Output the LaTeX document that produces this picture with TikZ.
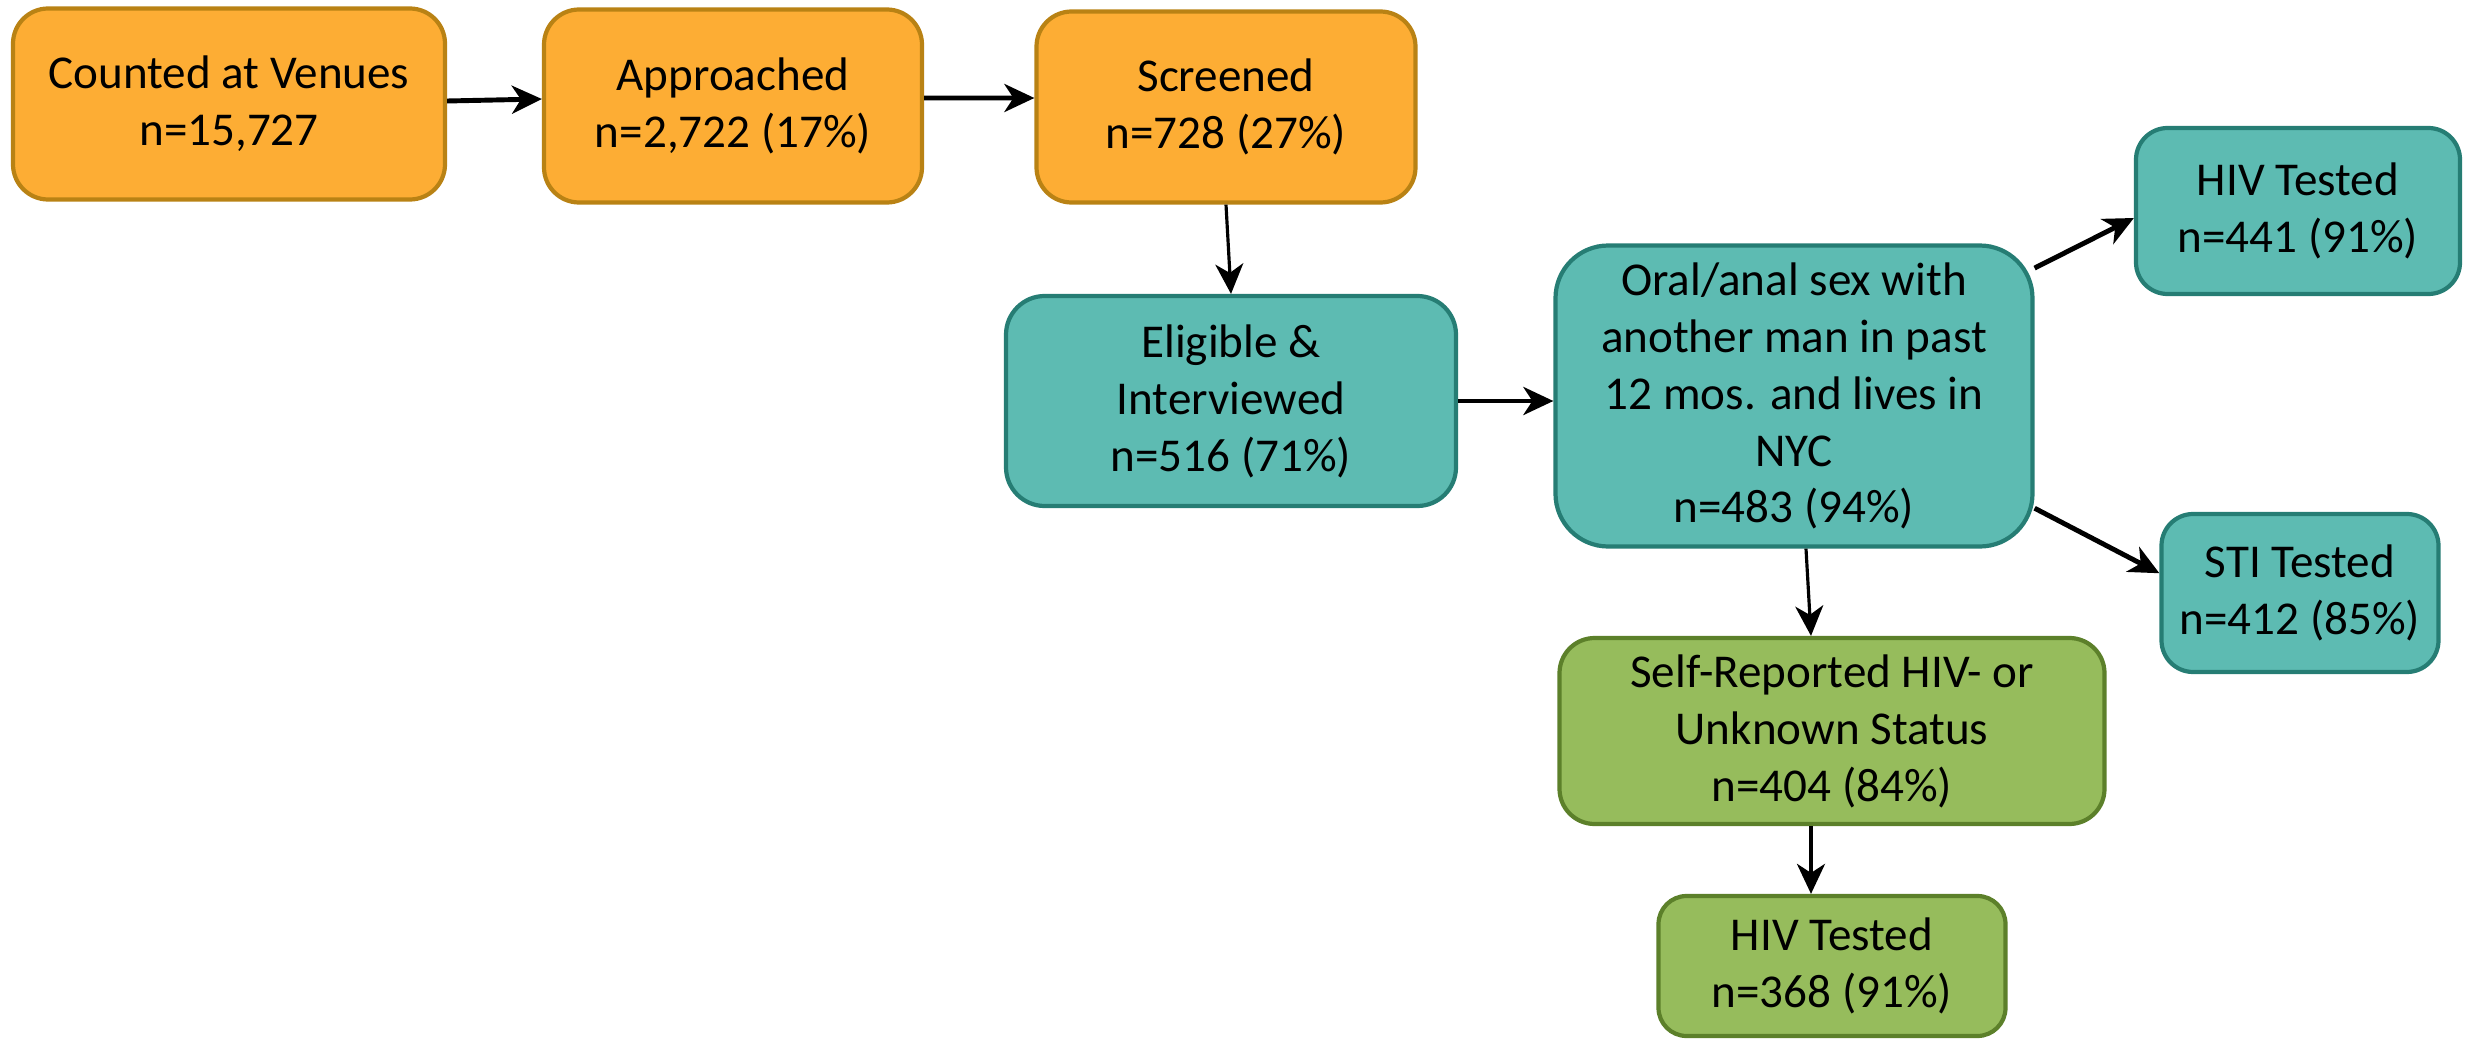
\documentclass[tikz,border=0pt]{standalone}
\usepackage{fontspec}
\setmainfont{Carlito}
\usepackage{xcolor}
\usepackage{tikz}
\usetikzlibrary{positioning, arrows.meta}
\definecolor{recruitcolor}{RGB}{253, 173, 52}
\definecolor{recruitline}{RGB}{185, 130, 20}
\definecolor{eligcolor}{RGB}{93, 187, 178}
\definecolor{eligline}{RGB}{38, 125, 116}
\definecolor{testcolor}{RGB}{150, 188, 92}
\definecolor{testline}{RGB}{92, 128, 42}

\begin{document}
\begin{tikzpicture}[
			stage/.style={
				rectangle,
				rounded corners=10pt,
				align=center,
				inner sep=0pt,
				line width=1.2pt,
				font=\fontsize{13.4}{16.2}\selectfont
			},
			recruit/.style={stage, fill=recruitcolor, draw=recruitline},
			elig/.style={stage, fill=eligcolor, draw=eligline},
			tested/.style={stage, fill=testcolor, draw=testline},
			link/.style={-{Stealth[length=3mm, width=2.8mm, inset=0.9mm]}, line width=0.9pt, black},
			boldlink/.style={link, line width=1.4pt}
			]
			
			\useasboundingbox (0,0) rectangle (24.81,-10.39);
			
			\node[recruit, minimum width=4.32cm, minimum height=1.91cm] (counted) at (2.29,-1.04)
			{Counted at Venues\\n=15,727};
			
			\node[recruit, minimum width=3.78cm, minimum height=1.93cm] (approached) at (7.33,-1.06)
			{Approached\\n=2,722 (17\%)};
			
			\node[recruit, minimum width=3.79cm, minimum height=1.91cm] (screened) at (12.26,-1.07)
			{Screened\\n=728 (27\%)};
			
			\node[elig, minimum width=4.50cm, minimum height=2.10cm, rounded corners=11pt] (eligible) at (12.31,-4.01)
			{Eligible \&\\Interviewed\\n=516 (71\%)};
			
			\node[elig, minimum width=4.77cm, minimum height=3.01cm, rounded corners=15pt] (msm) at (17.94,-3.96)
			{Oral/anal sex with\\another man in past\\12 mos. and lives in\\NYC\\n=483 (94\%)};
			
			\node[elig, minimum width=3.24cm, minimum height=1.66cm, rounded corners=9pt] (hivtest) at (22.98,-2.11)
			{HIV Tested\\n=441 (91\%)};
			
			\node[elig, minimum width=2.77cm, minimum height=1.58cm, rounded corners=9pt] (stitest) at (23.00,-5.93)
			{STI Tested\\n=412 (85\%)};
			
			\node[tested, minimum width=5.45cm, minimum height=1.86cm] (selfrep) at (18.32,-7.31)
			{Self-Reported HIV- or\\Unknown Status\\n=404 (84\%)};
			
			\node[tested, minimum width=3.47cm, minimum height=1.40cm, rounded corners=8pt] (hivneg) at (18.32,-9.66)
			{HIV Tested\\n=368 (91\%)};
			
			\draw[boldlink] ([yshift=0.03cm]counted.east) -- ([yshift=0.07cm]approached.west);
			\draw[boldlink] ([yshift=0.08cm]approached.east) -- ([yshift=0.09cm]screened.west);
			\draw[link] (screened.south) -- (eligible.north);
			\draw[boldlink] (eligible.east) -- (eligible.east -| msm.west);
			\draw[boldlink] (msm.28) -- ([yshift=-0.07cm]hivtest.west);
			\draw[boldlink] (msm.-25) -- (stitest.172);
			\draw[link] ([xshift=1.2mm]msm.south) -- ([xshift=-2.1mm]selfrep.north);
			\draw[link, line width=1.1pt] ([xshift=-2.1mm]selfrep.south) -- ([xshift=-2.1mm]hivneg.north);
			
		\end{tikzpicture}
\end{document}
